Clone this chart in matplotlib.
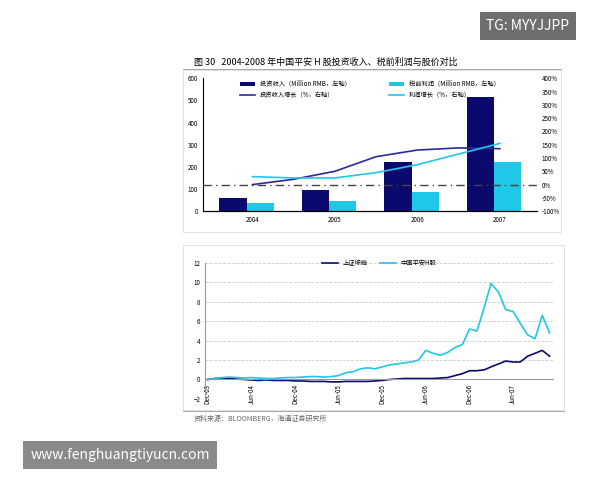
import matplotlib
matplotlib.use('Agg')
import matplotlib.pyplot as plt
import numpy as np
import pandas as pd

plt.rcParams['font.family'] = ['Noto Sans CJK SC', 'DejaVu Sans']

# top chart data
years = ['2004', '2005', '2006', '2007']
invest_income = [60, 95, 220, 515]
pretax_profit = [35, 45, 85, 220]
growth_x = [0, 0.5, 1, 1.5, 2, 2.5, 3]
invest_growth = [0, 20, 50, 105, 130, 138, 135]
profit_growth = [30, 25, 25, 45, 75, 115, 155]

# bottom chart data (monthly)
months = pd.date_range('2003-12-01', '2007-11-01', freq='MS')
ping_an_h = [0, 0.1, 0.2, 0.25, 0.2, 0.15, 0.2, 0.15, 0.1, 0.1, 0.15, 0.2,
             0.2, 0.25, 0.3, 0.3, 0.25, 0.3, 0.4, 0.7, 0.8, 1.1, 1.2, 1.1,
             1.3, 1.5, 1.6, 1.7, 1.8, 2.0, 3.0, 2.7, 2.5, 2.8, 3.3, 3.6,
             5.2, 5.0, 7.5, 9.9, 9.0, 7.2, 7.0, 5.8, 4.6, 4.2, 6.6, 4.8]
shanghai = [0, 0.1, 0.15, 0.1, 0.05, 0.0, -0.05, -0.1, -0.05, -0.1, -0.1, -0.1,
            -0.15, -0.15, -0.2, -0.2, -0.2, -0.25, -0.25, -0.2, -0.2, -0.2, -0.2, -0.15,
            -0.1, 0, 0.05, 0.1, 0.1, 0.1, 0.1, 0.1, 0.15, 0.2, 0.4, 0.6,
            0.9, 0.9, 1.0, 1.3, 1.6, 1.9, 1.8, 1.8, 2.4, 2.7, 3.0, 2.4]
tick_dates = pd.date_range('2003-12-01', '2007-06-01', freq='6MS')
tick_labels = [d.strftime('%b-%y') for d in tick_dates]

navy = '#0a0a6e'
cyan = '#1ec8e6'

fig = plt.figure(figsize=(6, 4.8), dpi=100)

fig.text(0.323, 0.871, '图 30   2004-2008 年中国平安 H 股投资收入、税前利润与股价对比',
         fontsize=6.5, va='center')
fig.add_artist(plt.Line2D([0.305, 0.935], [0.857, 0.857], color='#999999', lw=0.6))

ax1 = fig.add_axes([0.338, 0.56, 0.557, 0.277])
x = np.arange(len(years))
w = 0.33
ax1.bar(x - w / 2 - 0.07, invest_income, w, color=navy, label='投资收入（Million RMB，左轴）')
ax1.bar(x + w / 2 - 0.07, pretax_profit, w, color=cyan, label='税前利润（Million RMB，左轴）')
ax1.set_ylim(0, 600)
ax1.set_xlim(-0.6, 3.45)
ax1.set_xticks(x)
ax1.set_xticklabels(years)
ax1.tick_params(labelsize=4.5, length=0)
for s in ['top', 'right']:
    ax1.spines[s].set_visible(False)
ax2 = ax1.twinx()
ax2.plot(growth_x, invest_growth, color='#2a2a9a', lw=1.2, label='投资收入增长（%，右轴）')
ax2.plot(growth_x, profit_growth, color=cyan, lw=1.2, label='利润增长（%，右轴）')
ax2.axhline(0, color='#444444', lw=1, ls='-.', dashes=(6, 3, 1, 3))
ax2.set_ylim(-100, 400)
ax2.set_yticks(range(-100, 401, 50))
ax2.set_yticklabels([f'{v}%' for v in range(-100, 401, 50)])
ax2.tick_params(labelsize=4.5, length=0)
for s in ['top', 'right', 'left']:
    ax2.spines[s].set_visible(False)
h1, l1 = ax1.get_legend_handles_labels()
h2, l2 = ax2.get_legend_handles_labels()
ax1.legend([h1[0], h2[0], h1[1], h2[1]], [l1[0], l2[0], l1[1], l2[1]], ncol=2,
           fontsize=4.5, frameon=False, loc='upper center', bbox_to_anchor=(0.5, 1.03),
           handlelength=2.5, columnspacing=6)
fig.add_artist(plt.Rectangle((0.305, 0.517), 0.63, 0.337, fill=False, ec='#dddddd', lw=0.6))

ax3 = fig.add_axes([0.342, 0.169, 0.58, 0.283])
ax3.plot(months, shanghai, color=navy, lw=1.2, label='上证综指')
ax3.plot(months, ping_an_h, color=cyan, lw=1.2, label='中国平安H股')
ax3.set_ylim(-2, 12)
ax3.set_yticks(range(-2, 13, 2))
ax3.set_xlim(months[0] - pd.Timedelta(days=10), months[-1] + pd.Timedelta(days=15))
ax3.spines['bottom'].set_position(('data', 0))
ax3.spines['bottom'].set_color('#999999')
ax3.set_xticks(tick_dates)
ax3.set_xticklabels(tick_labels)
ax3.tick_params(labelsize=4.5, length=0)
ax3.tick_params(axis='x', labelrotation=90)
ax3.grid(axis='y', ls='--', color='#cccccc', lw=0.6)
for s in ['top', 'right']:
    ax3.spines[s].set_visible(False)
ax3.spines['left'].set_color('#999999')
ax3.legend(ncol=2, fontsize=4.5, frameon=False, loc='upper center',
           bbox_to_anchor=(0.5, 1.07), handlelength=2.5)
fig.add_artist(plt.Rectangle((0.305, 0.146), 0.635, 0.344, fill=False, ec='#dddddd', lw=0.6))
fig.add_artist(plt.Line2D([0.305, 0.94], [0.143, 0.143], color='#999999', lw=0.6))
fig.text(0.323, 0.128, '资料来源：BLOOMBERG，海通证券研究所', fontsize=5, color='#666666', va='center')

fig.text(0.88, 0.945, 'TG: MYYJJPP', fontsize=10, color='white', ha='center', va='center',
         bbox=dict(boxstyle='square,pad=0.5', fc='#6e6e6e', ec='none'))
fig.text(0.2, 0.053, 'www.fenghuangtiyucn.com', fontsize=10, color='white', ha='center', va='center',
         bbox=dict(boxstyle='square,pad=0.5', fc='#8a8a8a', ec='none'))

fig.savefig('out.png', dpi=100)
